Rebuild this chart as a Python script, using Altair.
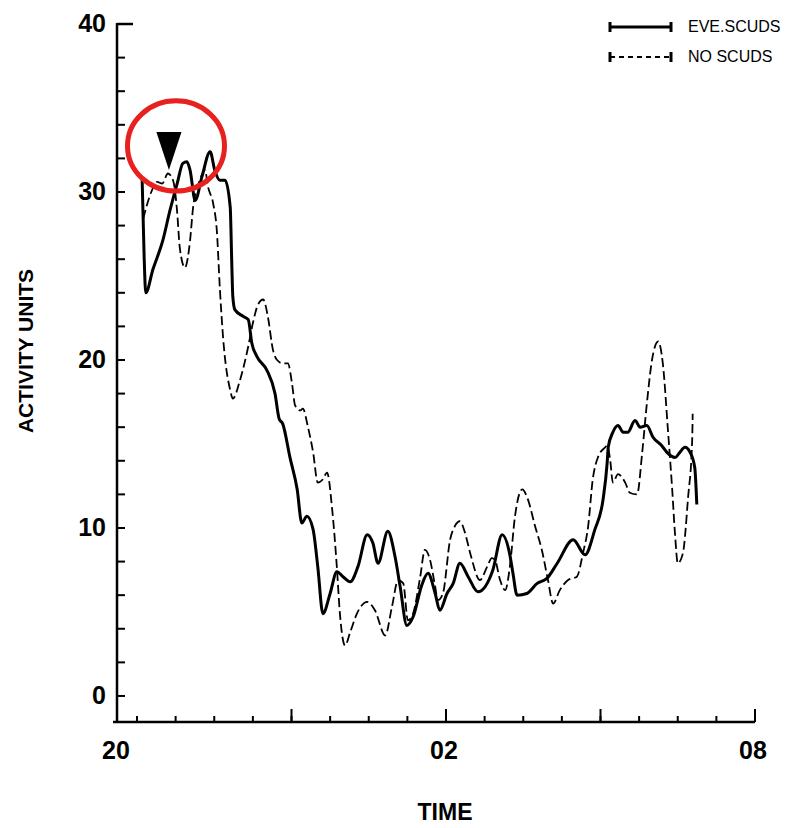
import altair as alt
import pandas as pd

# Activity through the night, hours counted from 20:00
scud_hours = [0.10, 0.14, 0.17, 0.31, 0.50, 0.64, 0.78, 0.89, 0.97, 1.03, 1.13, 1.26,
              1.42, 1.51, 1.61, 1.71, 1.81, 1.84, 1.86, 1.90, 2.06, 2.16, 2.23, 2.33,
              2.52, 2.68, 2.76, 2.83, 2.97, 3.11, 3.20, 3.30, 3.42, 3.51, 3.61, 3.75,
              3.88, 4.00, 4.14, 4.29, 4.47, 4.58, 4.68, 4.87, 5.01, 5.11, 5.24, 5.36,
              5.53, 5.65, 5.79, 5.88, 6.02, 6.14, 6.27, 6.43, 6.62, 6.91, 7.09, 7.24,
              7.30, 7.38, 7.57, 7.77, 7.96, 8.16, 8.47, 8.70, 8.89, 9.05, 9.13, 9.15,
              9.24, 9.34, 9.44, 9.53, 9.67, 9.77, 9.90, 10.02, 10.19, 10.29, 10.45,
              10.54, 10.64, 10.74, 10.83, 10.87]
scud_activity = [30.7, 26.0, 24.0, 25.4, 27.1, 28.9, 30.5, 31.7, 31.8, 31.3, 29.5, 30.9,
                 32.4, 31.3, 30.7, 30.7, 29.1, 25.8, 23.8, 23.0, 22.6, 22.4, 21.0, 20.2,
                 19.4, 18.0, 16.5, 16.2, 14.2, 12.3, 10.3, 10.7, 9.9, 7.7, 4.9, 6.1,
                 7.4, 7.1, 6.8, 7.7, 9.6, 9.1, 7.9, 9.8, 8.3, 6.5, 4.2, 4.7,
                 6.6, 7.3, 6.1, 5.1, 6.1, 6.7, 7.9, 7.1, 6.2, 7.5, 9.6, 8.4,
                 7.3, 6.0, 6.1, 6.7, 7.0, 7.9, 9.3, 8.4, 9.9, 11.7, 13.9, 14.8,
                 15.7, 16.1, 15.7, 15.7, 16.4, 16.0, 16.1, 15.4, 14.9, 14.5, 14.2,
                 14.5, 14.8, 14.5, 13.6, 11.4]

calm_hours = [0.12, 0.19, 0.29, 0.39, 0.49, 0.60, 0.70, 0.78, 0.83, 0.93, 1.03, 1.09,
              1.22, 1.32, 1.38, 1.48, 1.55, 1.61, 1.67, 1.81, 1.86, 2.00, 2.16, 2.25,
              2.35, 2.45, 2.54, 2.64, 2.72, 2.83, 2.93, 3.01, 3.07, 3.17, 3.22, 3.32,
              3.42, 3.51, 3.61, 3.69, 3.79, 3.88, 3.94, 4.04, 4.14, 4.27, 4.47, 4.62,
              4.82, 4.95, 5.07, 5.17, 5.26, 5.36, 5.50, 5.59, 5.69, 5.79, 5.84, 5.94,
              6.08, 6.17, 6.27, 6.37, 6.47, 6.66, 6.80, 6.89, 6.95, 7.05, 7.15, 7.24,
              7.34, 7.48, 7.59, 7.73, 7.86, 7.98, 8.08, 8.21, 8.37, 8.54, 8.66, 8.76,
              8.85, 8.95, 9.09, 9.13, 9.19, 9.24, 9.34, 9.42, 9.48, 9.57, 9.71, 9.81,
              9.90, 10.00, 10.12, 10.21, 10.31, 10.39, 10.45, 10.50, 10.60, 10.70,
              10.78, 10.79]
calm_activity = [28.4, 29.2, 30.1, 30.6, 30.5, 31.1, 30.7, 28.8, 26.7, 25.5, 27.1, 29.1,
                 30.7, 31.3, 30.3, 29.3, 27.7, 24.2, 21.4, 18.2, 17.7, 18.8, 20.8, 22.2,
                 23.3, 23.6, 22.6, 20.6, 20.0, 19.8, 19.8, 18.6, 17.3, 17.0, 17.1, 16.0,
                 14.5, 12.7, 12.9, 13.3, 11.1, 7.7, 4.9, 3.0, 3.8, 4.9, 5.6, 5.1,
                 3.6, 5.3, 6.9, 6.7, 4.5, 4.9, 7.1, 8.7, 8.1, 6.5, 5.7, 6.1,
                 9.3, 10.1, 10.4, 9.7, 8.5, 6.9, 7.7, 8.2, 8.1, 6.9, 6.3, 7.7,
                 10.7, 12.3, 11.7, 10.1, 8.7, 6.9, 5.5, 6.3, 6.9, 7.1, 8.5, 10.1,
                 12.9, 14.2, 14.8, 14.9, 14.0, 12.7, 13.2, 13.0, 12.7, 12.1, 12.0, 14.5,
                 17.4, 20.0, 21.1, 19.8, 15.8, 12.4, 9.5, 7.9, 8.5, 11.8,
                 15.2, 16.8]

series_names = ["EVE.SCUDS", "NO SCUDS"]

# Time axis: ticks every 45 minutes, labelled at 20:00, 02:00, 08:00
x_minor_ticks = [0, 0.75, 1.5, 2.25, 3, 3.75, 4.5, 5.25, 6, 6.75, 7.5, 8.25,
                 9, 9.75, 10.5, 11.25, 12]
x_major_ticks = [3, 6, 9, 12]
x_label_hours = [0, 6, 12]
x_label_text = ["20", "02", "08"]

# Activity axis: ticks every 2 units, labelled every 10
y_ticks = [0, 2, 4, 6, 8, 10, 12, 14, 16, 18, 20, 22, 24, 26, 28, 30, 32, 34, 36, 38]
y_top = 40
y_label_values = [0, 10, 20, 30, 40]

# Arrow marking the attack, and the ring around it
marker_hour, marker_level = 0.62, 32.44
ring_hour, ring_level = 0.757, 32.74

X_DOMAIN = [-0.466, 12]
Y_DOMAIN = [-1.55, 40.12]
W, H = 642, 700
BOLD = "Liberation Sans"

xs = alt.Scale(domain=X_DOMAIN, nice=False, zero=False)
ys = alt.Scale(domain=Y_DOMAIN, nice=False, zero=False)

scud_df = pd.DataFrame({"hour": scud_hours, "activity": scud_activity, "series": series_names[0]})
calm_df = pd.DataFrame({"hour": calm_hours, "activity": calm_activity, "series": series_names[1]})
one = pd.DataFrame({"k": [0]})


def xq(field):
    return alt.X(field, type="quantitative", scale=xs, axis=None)


def yq(field):
    return alt.Y(field, type="quantitative", scale=ys, axis=None)


calm_line = alt.Chart(calm_df).mark_line(
    interpolate="monotone", color="black", strokeWidth=1.8, strokeDash=[9, 4]
).encode(x=xq("hour"), y=yq("activity"))

scud_line = alt.Chart(scud_df).mark_line(
    interpolate="monotone", color="black", strokeWidth=3, strokeJoin="round"
).encode(x=xq("hour"), y=yq("activity"))

# Axis frame, drawn with inward ticks
x_axis_line = alt.Chart(one).mark_rule(color="black", strokeWidth=2.5).encode(
    x=alt.value(0), x2=alt.value(W), y=alt.value(H))
y_axis_line = alt.Chart(one).mark_rule(color="black", strokeWidth=2.5).encode(
    x=alt.value(4), y=alt.value(H), y2=alt.value(1))

x_minor = alt.Chart(pd.DataFrame({"hour": x_minor_ticks})).mark_rule(
    color="black", strokeWidth=2).encode(x=xq("hour"), y=alt.value(H), y2=alt.value(H - 6))
x_major = alt.Chart(pd.DataFrame({"hour": x_major_ticks})).mark_rule(
    color="black", strokeWidth=2).encode(x=xq("hour"), y=alt.value(H), y2=alt.value(H - 13))

y_minor = alt.Chart(pd.DataFrame({"v": y_ticks})).mark_rule(
    color="black", strokeWidth=2).encode(y=yq("v"), x=alt.value(4), x2=alt.value(12))
y_cap = alt.Chart(pd.DataFrame({"v": [y_top]})).mark_rule(
    color="black", strokeWidth=2.5).encode(y=yq("v"), x=alt.value(4), x2=alt.value(20))

y_labels = alt.Chart(pd.DataFrame({"v": y_label_values})).mark_text(
    align="right", baseline="middle", font=BOLD, fontWeight="bold", fontSize=25, color="black"
).encode(y=yq("v"), x=alt.value(-7), text=alt.Text("v:Q", format="d"))

x_label_df = pd.DataFrame({"hour": x_label_hours, "label": x_label_text})
x_labels_first = alt.Chart(x_label_df).transform_filter("datum.hour == 0").mark_text(
    align="center", baseline="middle", font=BOLD, fontWeight="bold", fontSize=25,
    color="black", dx=-21
).encode(x=xq("hour"), y=alt.value(H + 29), text="label:N")
x_labels_rest = alt.Chart(x_label_df).transform_filter("datum.hour > 0").mark_text(
    align="center", baseline="middle", font=BOLD, fontWeight="bold", fontSize=25,
    color="black", dx=-2
).encode(x=xq("hour"), y=alt.value(H + 29), text="label:N")

y_title = alt.Chart(one).mark_text(
    angle=270, align="center", baseline="middle", font=BOLD, fontWeight="bold",
    fontSize=21, color="black"
).encode(x=alt.value(-86), y=alt.value(329), text=alt.value("ACTIVITY UNITS"))
x_title = alt.Chart(one).mark_text(
    align="center", baseline="middle", font=BOLD, fontWeight="bold", fontSize=23, color="black"
).encode(x=alt.value(332), y=alt.value(791), text=alt.value("TIME"))

# Legend with capped line samples
LEG_X0, LEG_X1, LEG_TX = 497, 558, 575
legend_parts = []
for name, row_y, dash, sw in [(series_names[0], 5, [1, 0], 3), (series_names[1], 35, [5, 4], 2)]:
    legend_parts.append(alt.Chart(one).mark_rule(color="black", strokeWidth=sw, strokeDash=dash).encode(
        x=alt.value(LEG_X0), x2=alt.value(LEG_X1), y=alt.value(row_y)))
    for cx in (LEG_X0, LEG_X1):
        legend_parts.append(alt.Chart(one).mark_rule(color="black", strokeWidth=3).encode(
            x=alt.value(cx), y=alt.value(row_y - 5), y2=alt.value(row_y + 5)))
    legend_parts.append(alt.Chart(one).mark_text(
        align="left", baseline="middle", font="Liberation Sans", fontSize=16, color="black"
    ).encode(x=alt.value(LEG_TX), y=alt.value(row_y), text=alt.value(name)))

arrow = alt.Chart(pd.DataFrame({"hour": [marker_hour], "activity": [marker_level]})).mark_point(
    shape="M -0.66 -1 L 0.66 -1 L 0 1 Z", size=1444, filled=True, color="black", opacity=1,
    strokeWidth=0
).encode(x=xq("hour"), y=yq("activity"))

ring = alt.Chart(pd.DataFrame({"hour": [ring_hour], "activity": [ring_level]})).mark_point(
    shape="M -1 0 A 1 0.93 0 1 0 1 0 A 1 0.93 0 1 0 -1 0 Z", size=9409, filled=False,
    color="#e8201e", strokeWidth=5, opacity=1
).encode(x=xq("hour"), y=yq("activity"))

chart = alt.layer(
    x_axis_line, y_axis_line, x_minor, x_major, y_minor, y_cap,
    y_labels, x_labels_first, x_labels_rest, y_title, x_title,
    calm_line, scud_line, arrow, ring, *legend_parts
).properties(
    width=W, height=H,
    padding={"left": 113, "top": 22, "right": 34, "bottom": 106},
    autosize="none", background="white"
).configure_view(strokeWidth=0)

chart.save("out.html", embed_options={"renderer": "svg", "actions": False})
